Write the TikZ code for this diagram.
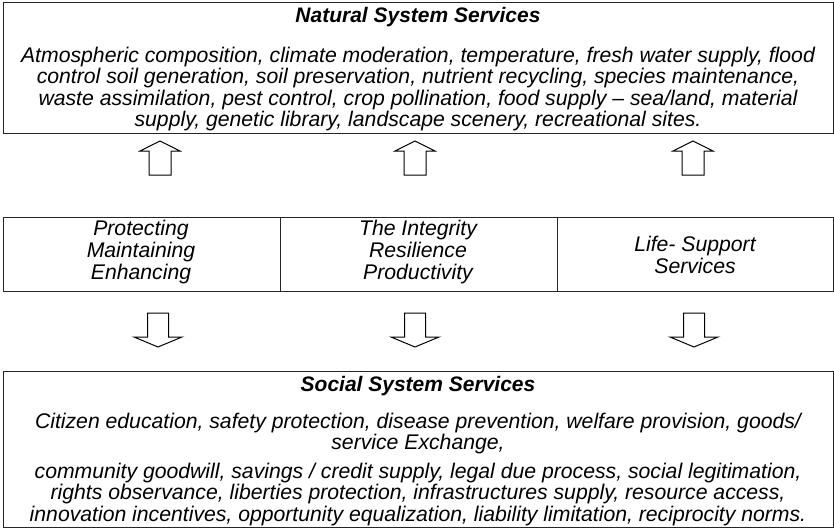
\documentclass[tikz,border=0pt]{standalone}
\usepackage{fontspec}
\setmainfont{Liberation Sans}
\begin{document}
\begin{tikzpicture}[x=1pt,y=-1pt]
\tikzset{
  frame/.style={draw=black!85, line width=1.3pt, inner sep=0pt, anchor=north west},
  body/.style={font=\fontsize{21.2}{21.3}\selectfont\itshape, align=center, inner sep=0pt},
  midtext/.style={font=\fontsize{21.2}{22}\selectfont\itshape, align=center, inner sep=0pt},
  ttl/.style={font=\fontsize{21}{21}\selectfont\bfseries\itshape, inner sep=0pt},
  blockarrow/.style={draw=black, line width=1pt, fill=white, line join=miter}
}
\useasboundingbox (0,0) rectangle (834,528);
% boxes
\node[frame, minimum width=830pt, minimum height=131pt] (natbox) at (3,2) {};
\node[frame, minimum width=277pt, minimum height=74pt] (cell1) at (3,217) {};
\node[frame, minimum width=277pt, minimum height=74pt] (cell2) at (280,217) {};
\node[frame, minimum width=276pt, minimum height=74pt] (cell3) at (557,217) {};
\node[frame, minimum width=830pt, minimum height=156pt] (socbox) at (3,371) {};
% texts
\node[ttl] (natttl) at (418,17) {Natural System Services};
\node[body] (nattxt) at (418,89) {Atmospheric composition, climate moderation, temperature, fresh water supply, flood\\control soil generation, soil preservation, nutrient recycling, species maintenance,\\waste assimilation, pest control, crop pollination, food supply – sea/land, material\\supply, genetic library, landscape scenery, recreational sites.};
\node[midtext] (t1) at (141,252) {Protecting\\Maintaining\\Enhancing};
\node[midtext] (t2) at (418,252) {The Integrity\\Resilience\\Productivity};
\node[midtext] (t3) at (695,254.5) {Life- Support\\Services};
\node[ttl] (socttl) at (418,386) {Social System Services};
\node[body] (soc1) at (418,433.5) {Citizen education, safety protection, disease prevention, welfare provision, goods/\\service Exchange,};
\node[body] (soc2) at (418,494.5) {community goodwill, savings / credit supply, legal due process, social legitimation,\\rights observance, liberties protection, infrastructures supply, resource access,\\innovation incentives, opportunity equalization, liability limitation, reciprocity norms.};
% block arrows up
\foreach \i/\c in {1/160,2/415,3/693}{
  \coordinate (up\i) at (\c,141);
  \draw[blockarrow] (up\i) -- ++(20,10) -- ++(-9,0) -- ++(0,24) -- ++(-22,0) -- ++(0,-24) -- ++(-9,0) -- cycle;
}
% block arrows down
\foreach \i/\c in {1/158,2/415,3/694}{
  \coordinate (dn\i) at (\c,347);
  \draw[blockarrow] (dn\i) -- ++(24,-10) -- ++(-13.5,0) -- ++(0,-24) -- ++(-21,0) -- ++(0,24) -- ++(-13.5,0) -- cycle;
}
\end{tikzpicture}
\end{document}
